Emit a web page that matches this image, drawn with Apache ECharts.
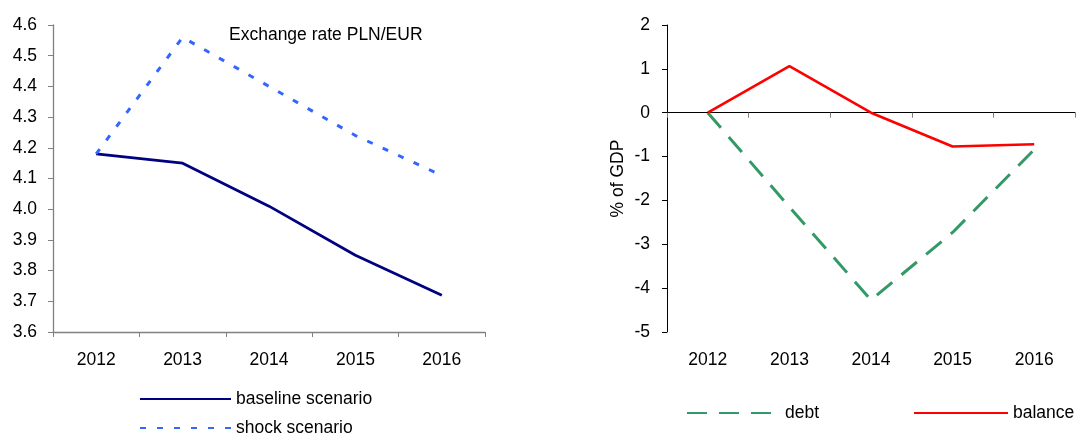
<!DOCTYPE html>
<html>
<head>
<meta charset="utf-8">
<script src="https://cdn.jsdelivr.net/npm/echarts@6/dist/echarts.min.js"></script>
<style>
html,body{margin:0;padding:0;background:#fff;}
#c{width:1076px;height:435px;}
</style>
</head>
<body>
<div id="c"></div>
<script>
const years = ['2012','2013','2014','2015','2016'];
const baseline = [4.18, 4.15, 4.01, 3.85, 3.72];
const shock = [4.18, 4.56, 4.40, 4.24, 4.11];
const debt = [0, -2.15, -4.27, -2.73, -0.84];
const balance = [0, 1.06, 0.0, -0.77, -0.72];
const leftTitle = 'Exchange rate PLN/EUR';
const rightYName = '% of GDP';

const FONT = 'Liberation Sans, Arial, sans-serif';
const FS = 17.5;
function leg(name, left, top, w) {
  return {
    data: [name], left: left, top: top, padding: 0,
    itemWidth: w, itemHeight: 14, itemGap: 5,
    itemStyle: {color: 'rgba(0,0,0,0)', borderWidth: 0, opacity: 0},
    textStyle: {fontFamily: FONT, fontSize: FS, color: '#000'},
    selectedMode: false
  };
}
const chart = echarts.init(document.getElementById('c'));
chart.setOption({
  animation: false,
  backgroundColor: '#fff',
  textStyle: {fontFamily: FONT},
  title: {
    text: leftTitle, left: 224, top: 21,
    textStyle: {fontFamily: FONT, fontSize: FS, fontWeight: 'normal', color: '#000'}
  },
  legend: [
    leg('baseline scenario', 139, 390, 91),
    leg('shock scenario', 139, 419, 91),
    leg('debt', 686, 404, 93),
    leg('balance', 913, 404, 94)
  ],
  grid: [
    {left: 53, width: 432, top: 25, height: 307},
    {left: 667, width: 408, top: 25, height: 307}
  ],
  xAxis: [
    {
      type: 'category', data: years, gridIndex: 0, boundaryGap: true,
      axisLine: {lineStyle: {color: '#808080', width: 1.3}},
      axisTick: {show: true, length: 5, lineStyle: {color: '#808080'}},
      axisLabel: {fontFamily: FONT, fontSize: FS, color: '#000', margin: 19},
      splitLine: {show: false}
    },
    {
      type: 'category', data: years, gridIndex: 1, boundaryGap: true,
      axisLine: {onZero: true, lineStyle: {color: '#000', width: 1}},
      axisTick: {show: true, length: 5, lineStyle: {color: '#808080'}},
      axisLabel: {show: false},
      splitLine: {show: false}
    },
    {
      type: 'category', data: years, gridIndex: 1, boundaryGap: true, position: 'bottom',
      axisLine: {show: false, onZero: false},
      axisTick: {show: false},
      axisLabel: {fontFamily: FONT, fontSize: FS, color: '#000', margin: 19},
      splitLine: {show: false}
    }
  ],
  yAxis: [
    {
      type: 'value', gridIndex: 0, min: 3.6, max: 4.6, interval: 0.1,
      axisLine: {show: true, lineStyle: {color: '#808080', width: 1.3}},
      axisTick: {show: true, length: 5, lineStyle: {color: '#808080'}},
      axisLabel: {fontFamily: FONT, fontSize: FS, color: '#000', margin: 16,
        formatter: v => v.toFixed(1)},
      splitLine: {show: false}
    },
    {
      type: 'value', gridIndex: 1, min: -5, max: 2, interval: 1,
      name: rightYName, nameLocation: 'middle', nameGap: 40,
      nameTextStyle: {fontFamily: FONT, fontSize: FS, color: '#000'},
      axisLine: {show: true, lineStyle: {color: '#000', width: 1}},
      axisTick: {show: true, length: 5, lineStyle: {color: '#000'}},
      axisLabel: {fontFamily: FONT, fontSize: FS, color: '#000', margin: 17},
      splitLine: {show: false}
    }
  ],
  series: [
    {
      name: 'baseline scenario', type: 'line', xAxisIndex: 0, yAxisIndex: 0,
      data: baseline, symbol: 'none',
      lineStyle: {color: '#000080', width: 2.8},
      itemStyle: {color: '#000080'}
    },
    {
      name: 'shock scenario', type: 'line', xAxisIndex: 0, yAxisIndex: 0,
      data: shock, symbol: 'none',
      lineStyle: {color: '#3366FF', width: 3, type: [6, 11]},
      itemStyle: {color: '#3366FF'}
    },
    {
      name: 'debt', type: 'line', xAxisIndex: 1, yAxisIndex: 1,
      data: debt, symbol: 'none',
      lineStyle: {color: '#339966', width: 3, type: [20, 12]},
      itemStyle: {color: '#339966'}
    },
    {
      name: 'balance', type: 'line', xAxisIndex: 1, yAxisIndex: 1,
      data: balance, symbol: 'none',
      lineStyle: {color: '#FF0000', width: 2.6},
      itemStyle: {color: '#FF0000'}
    }
  ]
});
</script>
</body>
</html>
